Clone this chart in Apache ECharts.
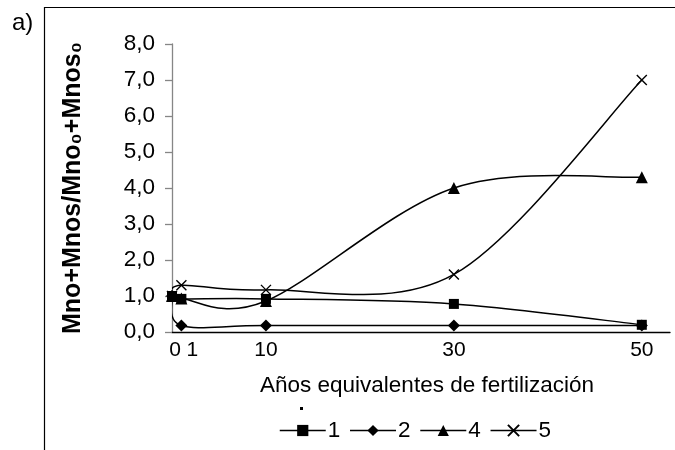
<!DOCTYPE html>
<html>
<head>
<meta charset="utf-8">
<script src="https://cdn.jsdelivr.net/npm/echarts@6/dist/echarts.min.js"></script>
<style>
  html, body { margin: 0; padding: 0; background: #fff; }
  #chart { width: 675px; height: 450px; }
</style>
</head>
<body>
<div id="chart"></div>
<script>
// Equivalent years of fertilization (x) and relative Mn content per treatment
var years = [0, 1, 10, 30, 50];
var xTickLabels = ['0', '1', '10', '30', '50'];
var yTicks = [0, 1, 2, 3, 4, 5, 6, 7, 8];

var seriesNames = ['1', '2', '4', '5'];
var values1 = [1.0, 0.92, 0.92, 0.78, 0.2];
var values2 = [1.0, 0.18, 0.18, 0.18, 0.18];
var values4 = [1.0, 0.93, 0.86, 4.0, 4.3];
var values5 = [1.0, 1.3, 1.17, 1.6, 7.0];

var allValues = [values1, values2, values4, values5];

var FONT = 'Liberation Sans, Arial, sans-serif';

function pairs(vals) {
  return years.map(function (x, i) { return [x, vals[i]]; });
}

// Cardinal (Catmull-Rom, tension 1/6) Bezier path through the projected points
function smoothPath(pts) {
  var d = 'M' + pts[0][0] + ',' + pts[0][1];
  for (var i = 0; i < pts.length - 1; i++) {
    var p0 = pts[i - 1] || pts[i];
    var p1 = pts[i];
    var p2 = pts[i + 1];
    var p3 = pts[i + 2] || pts[i + 1];
    var c1x = p1[0] + (p2[0] - p0[0]) / 6;
    var c1y = p1[1] + (p2[1] - p0[1]) / 6;
    var c2x = p2[0] - (p3[0] - p1[0]) / 6;
    var c2y = p2[1] - (p3[1] - p1[1]) / 6;
    d += 'C' + c1x + ',' + c1y + ',' + c2x + ',' + c2y + ',' + p2[0] + ',' + p2[1];
  }
  return d;
}

var crossPath = 'path://M0,0L10,10M10,0L0,10';

// Marker series (the curves are drawn by the custom series below)
function markerSeries(name, vals, symbol, size, z, hollow) {
  return {
    name: name,
    type: 'line',
    data: pairs(vals),
    symbol: symbol,
    symbolSize: size,
    z: z,
    lineStyle: { color: '#000', width: 1.5, opacity: 0 },
    itemStyle: hollow
      ? { color: 'rgba(0,0,0,0)', borderColor: '#000', borderWidth: 1.4 }
      : { color: '#000', borderWidth: 0 },
    emphasis: { disabled: true }
  };
}

var chart = echarts.init(document.getElementById('chart'), null, { renderer: 'canvas' });

chart.setOption({
  animation: false,
  backgroundColor: '#fff',
  grid: { left: 172, right: 5, top: 44, bottom: 118, containLabel: false },
  xAxis: {
    type: 'value',
    min: 0,
    max: 53,
    name: 'Años equivalentes de fertilización',
    nameLocation: 'middle',
    nameGap: 42,
    nameTextStyle: { fontFamily: FONT, fontSize: 22.5, color: '#000', padding: [0, 0, 0, 12] },
    axisLine: { show: true, onZero: false, lineStyle: { color: '#000', width: 1.3 } },
    axisTick: { show: false },
    splitLine: { show: false },
    axisLabel: {
      customValues: years,
      fontFamily: FONT,
      fontSize: 21,
      color: '#000',
      margin: 8,
      formatter: function (v) {
        var i = years.indexOf(v);
        var t = i >= 0 ? xTickLabels[i] : '';
        if (v === 0) return '{a|' + t + '}';
        if (v === 1) return '{b|' + t + '}';
        return t;
      },
      rich: {
        a: { fontFamily: FONT, fontSize: 21, color: '#000', padding: [0, 0, 0, 6] },
        b: { fontFamily: FONT, fontSize: 21, color: '#000', padding: [0, 0, 0, 22] }
      }
    }
  },
  yAxis: {
    type: 'value',
    min: 0,
    max: 8,
    interval: 1,
    name: 'Mno+Mnos/Mno\u2080+Mnos\u2080',
    nameLocation: 'middle',
    nameRotate: 90,
    nameGap: 86,
    nameTextStyle: { fontFamily: FONT, fontSize: 25, fontWeight: 'bold', color: '#000' },
    axisLine: { show: true, lineStyle: { color: '#868686', width: 1.3 } },
    axisTick: { show: true, inside: false, length: 7, lineStyle: { color: '#868686', width: 1.3 } },
    splitLine: { show: false },
    axisLabel: {
      customValues: yTicks,
      fontFamily: FONT,
      fontSize: 22.5,
      color: '#000',
      margin: 17,
      formatter: function (v) { return v.toFixed(1).replace('.', ','); }
    }
  },
  legend: {
    data: seriesNames,
    left: 279,
    top: 419,
    padding: 0,
    itemWidth: 46,
    itemHeight: 14,
    itemGap: 9,
    lineStyle: { color: '#000', width: 1.5, opacity: 1 },
    textStyle: { fontFamily: FONT, fontSize: 22.5, color: '#000', padding: [0, 0, 0, -3] },
    selectedMode: false
  },
  series: [
    {
      name: 'curves',
      type: 'custom',
      z: 2,
      clip: true,
      silent: true,
      data: allValues.map(function (v, i) { return [years[0], v[0], i]; }),
      renderItem: function (params, api) {
        var vals = allValues[params.dataIndex];
        var pts = years.map(function (x, j) { return api.coord([x, vals[j]]); });
        return {
          type: 'path',
          shape: { pathData: smoothPath(pts) },
          style: { fill: 'none', stroke: '#000', lineWidth: 1.5 }
        };
      }
    },
    markerSeries('1', values1, 'rect', 10, 6, false),
    markerSeries('2', values2, 'diamond', 12, 3, false),
    markerSeries('4', values4, 'triangle', 12, 4, false),
    markerSeries('5', values5, crossPath, 10, 5, true)
  ],
  graphic: [
    {
      type: 'rect',
      shape: { x: 44.5, y: 7.5, width: 700, height: 500 },
      style: { fill: 'none', stroke: '#000', lineWidth: 1.2 },
      silent: true
    },
    {
      type: 'text',
      left: 12,
      top: 11,
      style: { text: 'a)', font: '24px ' + FONT, fill: '#000' },
      silent: true
    },
    {
      type: 'rect',
      shape: { x: 300, y: 407, width: 3, height: 3 },
      style: { fill: '#000' },
      silent: true
    }
  ]
});
</script>
</body>
</html>
